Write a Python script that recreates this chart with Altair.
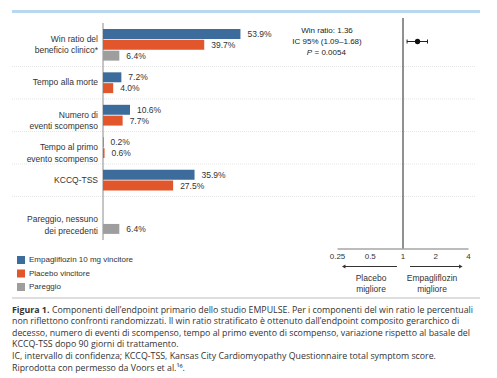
import altair as alt
import pandas as pd

# ---------------- data ----------------
categories = [
    "Win ratio del\nbeneficio clinico*",
    "Tempo alla morte",
    "Numero di\neventi scompenso",
    "Tempo al primo\nevento scompenso",
    "KCCQ-TSS",
    "Pareggio, nessuno\ndei precedenti",
]
series = ["Empagliflozin 10 mg vincitore", "Placebo vincitore", "Pareggio"]
empa_values = [53.9, 7.2, 10.6, 0.2, 35.9, None]
placebo_values = [39.7, 4.0, 7.7, 0.6, 27.5, None]
tie_values = [6.4, None, None, None, None, 6.4]
colors = ["#3b6c9c", "#e1572b", "#9e9e9e"]

win_ratio = 1.36
ci_low, ci_high = 1.09, 1.68
p_value = "0.0054"
forest_ticks = [0.25, 0.5, 1, 2, 4]
forest_tick_labels = ["0.25", "0.5", "1", "2", "4"]
arrow_left = [0.88, 0.285]
arrow_right = [1.16, 3.4]

caption_bold = "Figura 1."
caption_lines = [
    "Componenti dell\u2019endpoint primario dello studio EMPULSE. Per i componenti del win ratio le percentuali",
    "non riflettono confronti randomizzati. Il win ratio stratificato \u00e8 ottenuto dall\u2019endpoint composito gerarchico di",
    "decesso, numero di eventi di scompenso, tempo al primo evento di scompenso, variazione rispetto al basale del",
    "KCCQ-TSS dopo 90 giorni di trattamento.",
    "IC, intervallo di confidenza; KCCQ-TSS, Kansas City Cardiomyopathy Questionnaire total symptom score.",
    "Riprodotta con permesso da Voors et al.\u00b9\u2076.",
]

# ---------------- layout helpers ----------------
W, H = 481, 370
FONT = "Liberation Sans"
CAP_FONT = "Open Sans"
CAP_SIZE = 8.8

rows, domain, labels_main, labels_mid = [], [], [], []
for ci, cat in enumerate(categories):
    vals = [empa_values[ci], placebo_values[ci], tie_values[ci]]
    present = [i for i, v in enumerate(vals) if v is not None]
    nslots = max(present) + 1
    if ci > 0:
        domain.append(f"gap{ci}")
    for s in range(nslots):
        domain.append(f"{ci}-{s}")
    for s in present:
        rows.append(dict(slot=f"{ci}-{s}", series=series[s], value=vals[s],
                         label=f"{vals[s]:.1f}%"))
    if 0 in present:
        labels_main.append(dict(slot=f"{ci}-0", text=cat))
    else:
        labels_mid.append(dict(slot=f"{ci}-1", text=cat))

bars_df = pd.DataFrame(rows)
gaps_df = pd.DataFrame({"slot": [d for d in domain if d.startswith("gap")]})

yscale = alt.Scale(domain=domain, range=[21, 225.9], paddingInner=0.08, paddingOuter=0)
x0 = 95
bscale = alt.Scale(domain=[-x0 / 2.55, (W - x0) / 2.55], nice=False, zero=False)
x1, ppd = 395, 32.75
fscale = alt.Scale(type="log", base=2, domain=[2 ** (-x1 / ppd), 2 ** ((W - x1) / ppd)],
                   nice=False, zero=False)

# ---------------- bar panel ----------------
bars = alt.Chart(bars_df).mark_bar().encode(
    x=alt.X("value:Q", scale=bscale, axis=None, stack=None),
    y=alt.Y("slot:N", scale=yscale, axis=None),
    color=alt.Color("series:N", scale=alt.Scale(domain=series, range=colors),
                    legend=alt.Legend(title=None, orient="none", legendX=9, legendY=248,
                                      symbolType="square", symbolSize=64, symbolStrokeWidth=0,
                                      labelFontSize=8, labelFont=FONT, labelColor="#333",
                                      labelOffset=4, rowPadding=5.5, padding=0,
                                      labelLimit=300)),
)
value_labels = alt.Chart(bars_df).mark_text(align="left", baseline="middle", dx=7,
                                            fontSize=8.5, font=FONT, color="#333").encode(
    x=alt.X("value:Q", scale=bscale, axis=None),
    y=alt.Y("slot:N", scale=yscale, axis=None),
    text="label:N",
)
cat_main = alt.Chart(pd.DataFrame(labels_main)).mark_text(
    align="right", baseline="middle", fontSize=8.5, font=FONT, color="#333",
    lineBreak="\n", lineHeight=11.5).encode(
    x=alt.value(90),
    y=alt.Y("slot:N", scale=yscale, axis=None, bandPosition=1),
    text="text:N",
)
cat_mid = alt.Chart(pd.DataFrame(labels_mid)).mark_text(
    align="right", baseline="middle", fontSize=8.5, font=FONT, color="#333",
    lineBreak="\n", lineHeight=11.5).encode(
    x=alt.value(90),
    y=alt.Y("slot:N", scale=yscale, axis=None, bandPosition=0.6),
    text="text:N",
)
separators = alt.Chart(gaps_df).mark_rule(color="#e6e6e6", strokeDash=[1, 1], strokeWidth=1).encode(
    y=alt.Y("slot:N", scale=yscale, axis=None),
    x=alt.value(4), x2=alt.value(467),
)
bar_axis = alt.Chart(pd.DataFrame({"v": [0]})).mark_rule(color="#8c8c8c", strokeWidth=1).encode(
    x=alt.X("v:Q", scale=bscale, axis=None), y=alt.value(15), y2=alt.value(232),
)

# ---------------- forest panel ----------------
vline = alt.Chart(pd.DataFrame({"v": [1]})).mark_rule(color="#222", strokeWidth=1).encode(
    x=alt.X("v:Q", scale=fscale, axis=None), y=alt.value(10), y2=alt.value(241),
)
faxis = alt.Chart(pd.DataFrame({"a": [forest_ticks[0]], "b": [forest_ticks[-1]]})).mark_rule(
    color="#a6a6a6", strokeWidth=1.5).encode(
    x=alt.X("a:Q", scale=fscale, axis=None), x2="b:Q", y=alt.value(241),
)
ftick_labels = alt.Chart(pd.DataFrame({"v": forest_ticks, "t": forest_tick_labels})).mark_text(
    baseline="middle", fontSize=8, font=FONT, color="#333").encode(
    x=alt.X("v:Q", scale=fscale, axis=None), y=alt.value(248.5), text="t:N",
)
ci_line = alt.Chart(pd.DataFrame({"lo": [ci_low], "hi": [ci_high]})).mark_rule(
    color="#222", strokeWidth=1).encode(
    x=alt.X("lo:Q", scale=fscale, axis=None), x2="hi:Q", y=alt.value(33.5),
)
ci_caps = alt.Chart(pd.DataFrame({"v": [ci_low, ci_high]})).mark_rule(
    color="#222", strokeWidth=1).encode(
    x=alt.X("v:Q", scale=fscale, axis=None), y=alt.value(31.5), y2=alt.value(35.5),
)
pt = alt.Chart(pd.DataFrame({"v": [win_ratio]})).mark_point(
    filled=True, size=28, color="#111", opacity=1).encode(
    x=alt.X("v:Q", scale=fscale, axis=None), y=alt.value(33.5),
)
arrows = alt.Chart(pd.DataFrame({"a": [arrow_left[0], arrow_right[0]],
                                 "b": [arrow_left[1], arrow_right[1]]})).mark_rule(
    color="#333", strokeWidth=1).encode(
    x=alt.X("a:Q", scale=fscale, axis=None), x2="b:Q", y=alt.value(258.5),
)
heads = alt.Chart(pd.DataFrame({"v": [arrow_left[1], arrow_right[1]],
                                "s": ["triangle-left", "triangle-right"]})).mark_point(
    filled=True, size=16, color="#333", opacity=1).encode(
    x=alt.X("v:Q", scale=fscale, axis=None), y=alt.value(258.5),
    shape=alt.Shape("s:N", scale=None, legend=None),
)
arrow_text = alt.Chart(pd.DataFrame({
    "x": [363, 424], "t": ["Placebo\nmigliore", "Empagliflozin\nmigliore"]})).mark_text(
    baseline="middle", fontSize=8.5, font=FONT, color="#333", lineBreak="\n", lineHeight=11).encode(
    x=alt.X("x:Q", scale=None), y=alt.value(270), text="t:N",
)
annot = alt.Chart(pd.DataFrame({
    "t": [f"Win ratio: {win_ratio}", f"IC 95% ({ci_low}\u2013{ci_high})"],
    "y": [23, 34]})).mark_text(baseline="middle", fontSize=8, font=FONT, color="#222").encode(
    x=alt.value(319), y=alt.Y("y:Q", scale=None), text="t:N",
)
p_letter = alt.Chart(pd.DataFrame({"t": ["P"]})).mark_text(
    align="right", baseline="middle", fontSize=8, font=FONT, fontStyle="italic", color="#222").encode(
    x=alt.value(304), y=alt.value(45), text="t:N",
)
p_rest = alt.Chart(pd.DataFrame({"t": [f"= {p_value}"]})).mark_text(
    align="left", baseline="middle", fontSize=8, font=FONT, color="#222").encode(
    x=alt.value(306.5), y=alt.value(45), text="t:N",
)

# ---------------- frame & caption ----------------
top_rule = alt.Chart(pd.DataFrame({"k": [0]})).mark_rule(color="#b7d8ee", strokeWidth=3).encode(
    x=alt.value(4), x2=alt.value(472), y=alt.value(3.5),
)
bottom_rule = alt.Chart(pd.DataFrame({"k": [0]})).mark_rule(color="#bdbdbd", strokeWidth=1).encode(
    x=alt.value(4), x2=alt.value(472), y=alt.value(290),
)
cap_y = [301.5, 313, 324.5, 336, 348, 360]
cap_x = [44, 4, 4, 4, 4, 4]
caption = alt.Chart(pd.DataFrame({"t": caption_lines, "x": cap_x, "y": cap_y})).mark_text(
    align="left", baseline="middle", fontSize=CAP_SIZE, font=CAP_FONT, color="#333").encode(
    x=alt.X("x:Q", scale=None), y=alt.Y("y:Q", scale=None), text="t:N",
)
caption_b = alt.Chart(pd.DataFrame({"t": [caption_bold]})).mark_text(
    align="left", baseline="middle", fontSize=CAP_SIZE, font=CAP_FONT, fontWeight="bold", color="#333").encode(
    x=alt.value(4), y=alt.value(cap_y[0]), text="t:N",
)

chart = alt.layer(
    top_rule, bottom_rule, separators, bar_axis, bars, value_labels, cat_main, cat_mid,
    vline, faxis, ftick_labels, ci_line, ci_caps, pt, arrows, heads, arrow_text,
    annot, p_letter, p_rest, caption, caption_b,
).resolve_scale(x="independent").properties(
    width=W, height=H, autosize=alt.AutoSizeParams(type="none"), padding=0,
).configure_view(stroke=None)

chart.save("out.html", embed_options={"renderer": "svg", "actions": False})
